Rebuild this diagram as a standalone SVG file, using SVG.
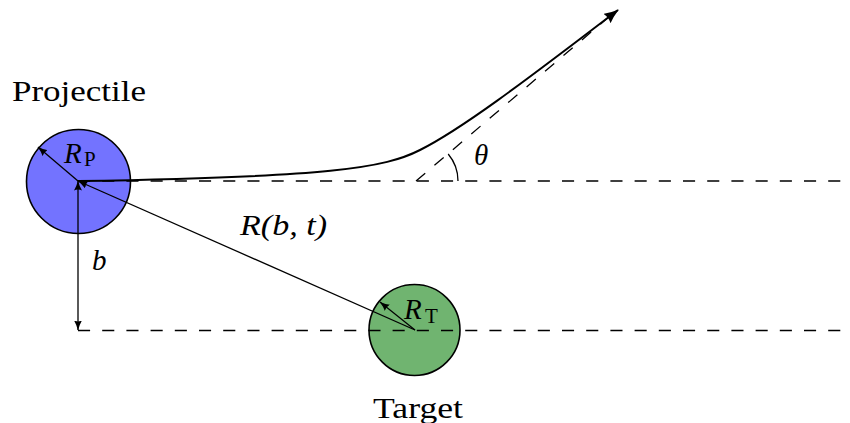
<svg xmlns="http://www.w3.org/2000/svg" width="850" height="423" viewBox="0 0 850 423">
<style>
text{font-family:'Liberation Serif','Times New Roman',Times,serif;fill:#000}
.lbl{font-size:29px}
.it{font-style:italic}
.sub{font-size:21px}
.dash{stroke:#000;stroke-width:1.3;stroke-dasharray:12.1 12.1;fill:none}
.thin{stroke:#000;stroke-width:1.3;fill:none}
</style>
<defs>
<marker id="ah" viewBox="0 0 10 8" refX="9.5" refY="4" markerWidth="10" markerHeight="8" markerUnits="userSpaceOnUse" orient="auto-start-reverse">
<path d="M0,0 Q4,2.5 10,4 Q4,5.5 0,8 Q1.8,4 0,0 Z" fill="#000"/>
</marker>
<marker id="big" viewBox="0 0 15 12" refX="14" refY="6" markerWidth="15" markerHeight="12" markerUnits="userSpaceOnUse" orient="auto">
<path d="M0,0 Q6,3.5 15,6 Q6,8.5 0,12 Q2.5,6 0,0 Z" fill="#000"/>
</marker>
</defs>
<g id="projectile">
<circle cx="78.5" cy="181.5" r="52" fill="#7373ff" stroke="#000" stroke-width="1.6"/>
<text class="lbl" x="12" y="101" textLength="134" lengthAdjust="spacingAndGlyphs">Projectile</text>
</g>
<g id="target">
<circle cx="414.5" cy="330" r="45.5" fill="#70b470" stroke="#000" stroke-width="1.6"/>
<text class="lbl" x="373" y="418" textLength="90" lengthAdjust="spacingAndGlyphs">Target</text>
</g>
<g id="connectors">
<line class="dash" x1="78" y1="181" x2="845" y2="181"/>
<line class="dash" x1="78" y1="330.5" x2="845" y2="330.5"/>
<line class="dash" x1="416" y1="181" x2="610" y2="16"/>
<path class="thin" d="M458,181 A42,42 0 0 0 448.2,154"/>
<path d="M78,181 C330,177 385,168 420,150 C460,130 520,85 618,10" fill="none" stroke="#000" stroke-width="2" marker-end="url(#big)"/>
<line class="thin" x1="415" y1="330" x2="78" y2="181" marker-end="url(#ah)"/>
<line class="thin" x1="78" y1="181" x2="38" y2="147" marker-end="url(#ah)"/>
<line class="thin" x1="415" y1="330" x2="380" y2="302" marker-end="url(#ah)"/>
<line class="thin" x1="78" y1="181" x2="78" y2="330" marker-start="url(#ah)" marker-end="url(#ah)"/>
</g>
<g id="labels">
<text class="lbl it" x="64" y="163">R</text><text class="sub" x="84" y="166">P</text>
<text class="lbl it" x="404" y="319">R</text><text class="sub" x="425" y="323">T</text>
<text class="lbl it" x="240" y="235" textLength="87" lengthAdjust="spacingAndGlyphs">R(b, t)</text>
<text class="lbl it" x="92" y="270">b</text>
<text class="lbl it" x="474" y="165">θ</text>
</g>
</svg>
